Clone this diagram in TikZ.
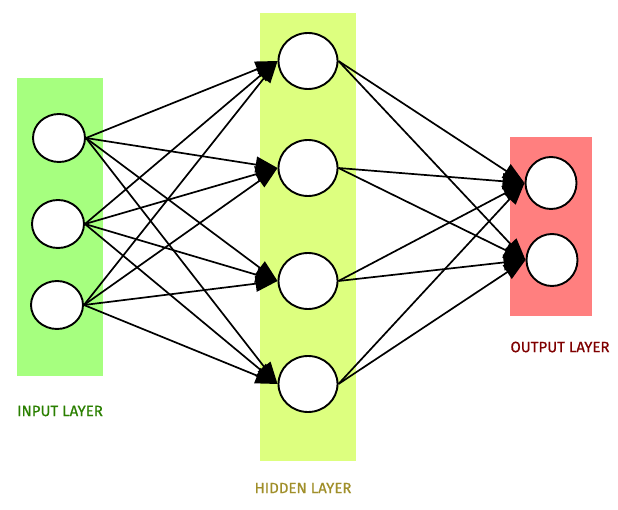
\documentclass[tikz,border=0pt]{standalone}
\usepackage{fontspec}
\setmainfont{Fira Sans}
\newfontfamily\labfont{Fira Sans}[FakeBold=0.7]
\usetikzlibrary{arrows.meta,shapes.geometric}
\definecolor{inbg}{HTML}{A6FF7F}
\definecolor{hidbg}{HTML}{DDFF7F}
\definecolor{outbg}{HTML}{FF7F7F}
\definecolor{inlab}{HTML}{2A7F00}
\definecolor{hidlab}{HTML}{A08F2A}
\definecolor{outlab}{HTML}{7F0000}
\begin{document}
\begin{tikzpicture}[x=1pt,y=-1pt,
  neuron/.style={draw=black,line width=1.9pt,fill=white,ellipse,inner sep=0pt},
  smallneuron/.style={neuron,minimum width=52pt,minimum height=48pt},
  bigneuron/.style={neuron,minimum width=59pt,minimum height=56pt},
  outneuron/.style={neuron,minimum width=51pt,minimum height=52pt},
  link/.style={line width=1.7pt,-{Triangle[length=22pt,width=16pt]}},
  lab/.style={font=\labfont\fontsize{15}{17}\selectfont}
]
\useasboundingbox (0,0) rectangle (618,510);
\fill[inbg] (17,78) rectangle (103,376);
\fill[hidbg] (260,13) rectangle (356,461);
\fill[outbg] (510,137) rectangle (592,316);
\node[smallneuron] (i1) at (59,138) {};
\node[smallneuron] (i2) at (58,224) {};
\node[smallneuron] (i3) at (57,305) {};
\node[bigneuron] (h1) at (308,61) {};
\node[bigneuron] (h2) at (308,168) {};
\node[bigneuron] (h3) at (308,281) {};
\node[bigneuron] (h4) at (308,384) {};
\node[outneuron] (o1) at (551,183) {};
\node[outneuron] (o2) at (552,260) {};
\foreach \i in {1,2,3}{
  \foreach \h in {1,2,3,4}{
    \draw[link] (i\i.east) -- (h\h.west);
  }
}
\foreach \h in {1,2,3,4}{
  \foreach \o in {1,2}{
    \draw[link] (h\h.east) -- (o\o.west);
  }
}
\node[lab,text=inlab] (li) at (60,411) {INPUT LAYER};
\node[lab,text=hidlab] (lh) at (303,488) {HIDDEN LAYER};
\node[lab,text=outlab] (lo) at (560,347) {OUTPUT LAYER};
\end{tikzpicture}
\end{document}
